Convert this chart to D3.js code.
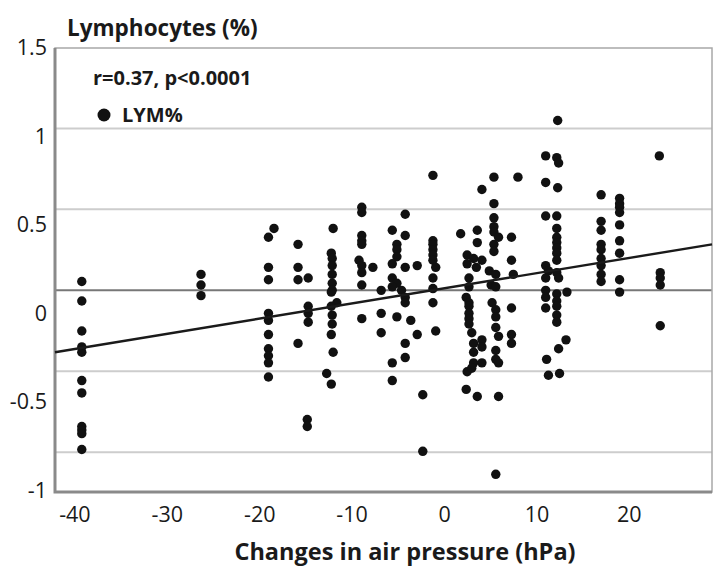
<!DOCTYPE html>
<html>
<head>
<meta charset="utf-8">
<script src="https://cdn.jsdelivr.net/npm/d3@7/dist/d3.min.js"></script>
<style>
  body { margin: 0; background: #fff; }
  svg { display: block; }
  text { font-family: "Open Sans", sans-serif; fill: #1a1a1a; }
</style>
</head>
<body>
<svg id="chart" width="714" height="567"></svg>
<script>
// change in air pressure (hPa) and matching change in lymphocytes (%)
var pressure = [
  -39.2,-39.2,-39.2,-39.2,-39.2,-39.2,-39.2,-39.2,-39.2,-39.2,-39.2,
  -26.3,-26.3,-26.3,
  -18.4,-19,-19,-19,-19,-19,-19,-19,-19,-19,-19,
  -15.8,-15.8,-15.8,-15.8,-14.7,-14.7,-14.7,-14.7,-14.8,-14.8,
  -12,-12.2,-12.1,-12.1,-12.1,-12.1,-12.2,-12.1,-11.6,-12.2,-12.1,-12.1,-12.2,-12,-12.7,-12.2,
  -8.9,-8.9,-8.9,-8.9,-8.9,-9.2,-8.9,-8.9,-7.7,-8.9,-8.9,-6.8,-6.8,-6.8,
  -5.6,-4.2,-4.2,-5.1,-5.1,-5.1,-5.6,-4.2,-2.9,-5.6,-5.1,-5.6,-4.6,-4.2,-4.2,-5.1,-3.6,-2.9,-4.2,-4.2,-5.6,-5.6,-2.3,-2.3,
  -1.2,-1.2,-1.2,-1.2,-1.2,-1.2,-0.9,-1.2,-1.2,-1.2,-0.9,
  1.8,2.5,2.5,2.7,2.7,2.4,2.7,2.7,2.7,2.7,2.7,3,3.2,3.2,3.2,2.5,3,2.4,
  3.6,3.6,3.2,4.1,3.5,4.1,4.1,4.1,4.1,3.6,
  5.4,5.4,5.4,5.4,5.4,5.9,5.4,5.4,4.9,5.6,5.1,5.6,5.2,5.6,5.6,5.6,5.9,5.6,5.6,5.9,5.9,5.6,
  8,7.3,7.3,7.5,7.3,7.3,7.3,
  12.3,11,12.2,12.4,11,12.3,11,12.2,12.2,12.2,12.2,12.2,12.2,12.2,11,11.3,11,12.2,12.4,11,13.3,11,12.2,12.2,11,12.2,12.2,12.2,13.2,12.4,11.1,11.3,12.5,
  17,17,17,17,17,17,17,17,17,
  19,19,19,19,19,19,19,19,19,
  23.3,23.4,23.4,23.4,23.4
];
var lymphocytes = [
  0.18,0.07,-0.10,-0.19,-0.22,-0.38,-0.45,-0.64,-0.66,-0.68,-0.77,
  0.22,0.16,0.10,
  0.48,0.43,0.26,0.19,0.00,-0.04,-0.12,-0.20,-0.24,-0.28,-0.36,
  0.39,0.26,0.19,-0.17,0.20,0.04,0.00,-0.05,-0.60,-0.64,
  0.48,0.34,0.31,0.27,0.22,0.17,0.12,0.13,0.06,0.04,-0.01,-0.06,-0.12,-0.22,-0.34,-0.40,
  0.60,0.57,0.44,0.41,0.39,0.30,0.27,0.23,0.26,0.16,-0.03,0.13,0.00,-0.11,
  0.47,0.56,0.44,0.39,0.36,0.32,0.28,0.26,0.27,0.20,0.17,0.15,0.13,0.09,0.06,-0.02,-0.04,-0.12,-0.17,-0.25,-0.28,-0.38,-0.46,-0.78,
  0.78,0.41,0.39,0.36,0.33,0.30,0.26,0.20,0.14,0.06,-0.10,
  0.45,0.33,0.28,0.20,0.15,0.09,0.06,0.04,0.00,-0.03,-0.06,-0.11,-0.17,-0.22,-0.28,-0.33,-0.31,-0.43,
  0.47,0.40,0.31,0.30,0.26,0.70,-0.15,-0.19,-0.28,-0.47,
  0.77,0.62,0.54,0.49,0.46,0.43,0.39,0.35,0.24,0.22,0.16,0.15,0.06,0.02,-0.02,-0.08,-0.13,-0.21,-0.26,-0.28,-0.47,-0.91,
  0.77,0.43,0.30,0.22,0.03,-0.12,-0.17,
  1.09,0.89,0.88,0.85,0.74,0.71,0.55,0.55,0.48,0.43,0.40,0.37,0.34,0.30,0.27,0.24,0.20,0.23,0.20,0.13,0.12,0.09,0.11,0.07,0.03,0.04,-0.01,-0.05,-0.15,-0.20,-0.26,-0.35,-0.34,
  0.67,0.52,0.47,0.39,0.36,0.31,0.27,0.22,0.18,
  0.65,0.62,0.60,0.57,0.50,0.41,0.34,0.19,0.12,
  0.89,0.23,0.20,0.16,-0.07
];

// regression line end points
var fitX = [-42.1, 29];
var fitY = [-0.22, 0.39];

var xTicks = [-40, -30, -20, -10, 0, 10, 20];
var yTicks = [-1, -0.5, 0, 0.5, 1, 1.5];
var yTickLabels = ["-1", "-0.5", "0", "0.5", "1", "1.5"];
var gridY = [1.045, 0.588, -0.328, -0.785];
var refY = 0.13;

var legendStat = "r=0.37, p<0.0001";
var legendSeries = "LYM%";

var svg = d3.select("#chart");
var plotL = 55, plotR = 712, plotT = 48, plotB = 492;

var x = d3.scaleLinear().domain([-42.1, 29]).range([plotL, plotR]);
var y = d3.scaleLinear().domain([-1.01, 1.5]).range([plotB, plotT]);

// grid lines
svg.append("g").selectAll("line")
  .data(gridY)
  .join("line")
    .attr("x1", plotL).attr("x2", plotR)
    .attr("y1", d => y(d)).attr("y2", d => y(d))
    .attr("stroke", "#cdcdcd")
    .attr("stroke-width", 2);

svg.append("line")
  .attr("x1", plotL).attr("x2", plotR)
  .attr("y1", y(refY)).attr("y2", y(refY))
  .attr("stroke", "#777")
  .attr("stroke-width", 2);

// frame
svg.append("rect")
  .attr("x", plotL).attr("y", plotT)
  .attr("width", plotR - plotL).attr("height", plotB - plotT)
  .attr("fill", "none")
  .attr("stroke", "#a8a8a8")
  .attr("stroke-width", 1.5);
svg.append("path")
  .attr("d", "M" + plotL + "," + plotT + "V" + plotB + "H" + plotR)
  .attr("fill", "none")
  .attr("stroke", "#8a8a8a")
  .attr("stroke-width", 3);

// legend box
svg.append("rect")
  .attr("x", plotL + 5).attr("y", plotT + 4)
  .attr("width", 205).attr("height", 72)
  .attr("fill", "#fff");

// points
svg.append("g").selectAll("circle")
  .data(pressure.map((p, i) => [p, lymphocytes[i]]))
  .join("circle")
    .attr("cx", d => x(d[0]))
    .attr("cy", d => y(d[1]))
    .attr("r", 4.7)
    .attr("fill", "#111");

// regression line
svg.append("path")
  .datum(fitX.map((v, i) => [v, fitY[i]]))
  .attr("d", d3.line().x(d => x(d[0])).y(d => y(d[1])))
  .attr("stroke", "#1a1a1a")
  .attr("stroke-width", 2.4)
  .attr("fill", "none");

// axes labels
var xAxis = svg.append("g")
  .attr("transform", "translate(0," + plotB + ")")
  .call(d3.axisBottom(x).tickValues(xTicks).tickSize(0).tickPadding(15)
    .tickFormat(d => String(d)));
xAxis.select(".domain").remove();
xAxis.selectAll("text")
  .attr("font-size", 21.5)
  .attr("font-family", "'Open Sans', sans-serif")
  .attr("fill", "#1a1a1a");

var yAxis = svg.append("g")
  .attr("transform", "translate(" + plotL + ",0)")
  .call(d3.axisLeft(y).tickValues(yTicks).tickSize(0).tickPadding(8)
    .tickFormat((d, i) => yTickLabels[i]));
yAxis.select(".domain").remove();
yAxis.selectAll("text")
  .attr("font-size", 21.5)
  .attr("font-family", "'Open Sans', sans-serif")
  .attr("fill", "#1a1a1a");

// titles
svg.append("text")
  .attr("x", 67).attr("y", 36)
  .attr("font-size", 22.5)
  .attr("font-weight", "bold")
  .text("Lymphocytes (%)");

svg.append("text")
  .attr("x", 405).attr("y", 560)
  .attr("text-anchor", "middle")
  .attr("font-size", 23.5)
  .attr("font-weight", "bold")
  .text("Changes in air pressure (hPa)");

// legend content
svg.append("text")
  .attr("x", 93).attr("y", 85)
  .attr("font-size", 20)
  .attr("font-weight", "bold")
  .text(legendStat);
svg.append("circle")
  .attr("cx", 104).attr("cy", 115).attr("r", 6.5)
  .attr("fill", "#111");
svg.append("text")
  .attr("x", 122).attr("y", 122)
  .attr("font-size", 20)
  .attr("font-weight", "bold")
  .text(legendSeries);
</script>
</body>
</html>
